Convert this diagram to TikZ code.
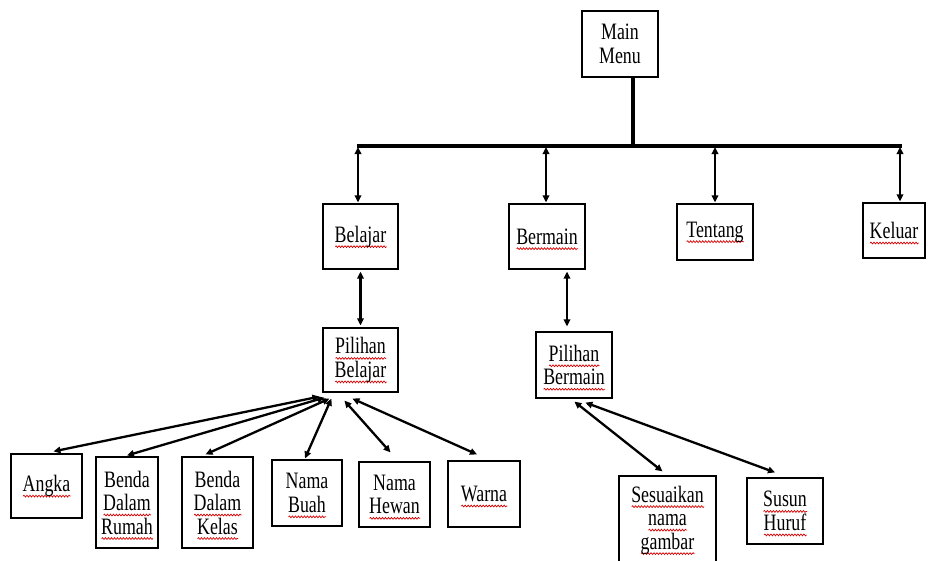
\documentclass[tikz,border=0pt]{standalone}
\usepackage{fontspec}
\setmainfont{Liberation Serif}[FakeStretch=0.76]
\usetikzlibrary{arrows.meta,calc,decorations.pathmorphing}
% red wavy spell-check underline under a word
\newcommand\sq[1]{\setbox0\hbox{#1}\leavevmode
  \rlap{\smash{\tikz[baseline=4.5pt]\draw[draw=red!85!black, line width=0.7pt,
    decorate, decoration={snake, amplitude=0.9pt, segment length=3pt}]
    (0pt,0pt) -- (\the\wd0,0pt);}}%
  \box0}
% box text: large, tightly leaded
\newcommand\boxfont{\fontsize{23.5}{23.5}\selectfont\lineskiplimit-30pt\relax}
\tikzset{
  box/.style={draw, line width=1.2pt, align=center, inner sep=0pt,
    font=\boxfont},
  link/.style={line width=2.3pt,
    {Triangle[length=7pt,width=6.5pt]}-{Triangle[length=7pt,width=6.5pt]}},
  bus/.style={line width=3.2pt}
}
\begin{document}
\begin{tikzpicture}[x=1pt,y=-1pt]
\fill[white] (0,0) rectangle (928,560);
\useasboundingbox (0,0) rectangle (928,560);

% top level
\node[box, minimum width=76pt, minimum height=66pt] (main) at (620,44) {Main\\Menu};
\node[box, minimum width=75pt, minimum height=65pt] (belajar) at (360.5,236.5) {\sq{Belajar}};
\node[box, minimum width=76pt, minimum height=65pt] (bermain) at (547,236.5) {\sq{Bermain}};
\node[box, minimum width=76pt, minimum height=56pt] (tentang) at (715,232) {\sq{Tentang}};
\node[box, minimum width=62pt, minimum height=55pt] (keluar) at (894,230.5) {\sq{Keluar}};

% second level
\node[box, minimum width=75pt, minimum height=64pt] (pilb) at (360.5,360) {\sq{Pilihan}\\\sq{Belajar}};
\node[box, minimum width=76pt, minimum height=66pt] (pilm) at (574,365) {\sq{Pilihan}\\\sq{Bermain}};

% learning items
\node[box, minimum width=71pt, minimum height=64pt] (angka) at (46.5,486) {\sq{Angka}};
\node[box, minimum width=62pt, minimum height=91pt] (rumah) at (127,502.5) {Benda\\\sq{Dalam}\\\sq{Rumah}};
\node[box, minimum width=71pt, minimum height=91pt] (kelas) at (217.5,502.5) {Benda\\\sq{Dalam}\\\sq{Kelas}};
\node[box, minimum width=70pt, minimum height=66pt] (buah) at (307,493) {Nama\\\sq{Buah}};
\node[box, minimum width=71pt, minimum height=65pt] (hewan) at (394.5,494.5) {Nama\\\sq{Hewan}};
\node[box, minimum width=72pt, minimum height=66pt] (warna) at (484,494) {\sq{Warna}};

% game items
\node[box, minimum width=97pt, minimum height=88pt] (sesuai) at (667.5,520) {\sq{Sesuaikan}\\\sq{nama}\\\sq{gambar}};
\node[box, minimum width=76pt, minimum height=66pt] (susun) at (785,511) {\sq{Susun}\\\sq{Huruf}};

% main bus
\coordinate (busL) at (357,146);
\coordinate (busR) at (902,146);
\coordinate (busJ) at (633,146);
\draw[bus] (busL) -- (busR);
\draw[bus] ($(main.south)+(13,0)$) -- (busJ);

\coordinate (t1) at (358,147);
\coordinate (t2) at (546,147);
\coordinate (t3) at (715,147);
\coordinate (t4) at (900,147);
\draw[link] (t1) -- ($(belajar.north)+(-2.5,-1)$);
\draw[link] (t2) -- ($(bermain.north)+(-1,-1)$);
\draw[link] (t3) -- ($(tentang.north)+(0,-1)$);
\draw[link] (t4) -- ($(keluar.north)+(6,-1)$);

% level links
\draw[link] ($(belajar.south)+(0,2)$) -- ($(pilb.north)+(0,-2)$);
\draw[link] ($(bermain.south)+(20,2)$) -- ($(pilm.north)+(-7,-5)$);

% learning fan
\draw[link] ($(pilb.south west)+(-3,4)$) -- ($(angka.north)+(7,-2)$);
\draw[link] ($(pilb.south west)+(2,5)$) -- ($(rumah.north)+(0,-1)$);
\draw[link] ($(pilb.south west)+(7,6)$) -- ($(kelas.north)+(-12,-2)$);
\draw[link] ($(pilb.south west)+(9,6)$) -- ($(buah.north)+(-2,-1)$);
\draw[link] ($(pilb.south west)+(22,8)$) -- ($(hewan.north)+(-4,-9)$);
\draw[link] ($(pilb.south west)+(30,6)$) -- ($(warna.north)+(-7,-6)$);

% game fan
\draw[link] ($(pilm.south west)+(39,3)$) -- ($(sesuai.north)+(-5,-4)$);
\draw[link] ($(pilm.south west)+(50,4)$) -- ($(susun.north)+(-10,-5)$);
\end{tikzpicture}
\end{document}
